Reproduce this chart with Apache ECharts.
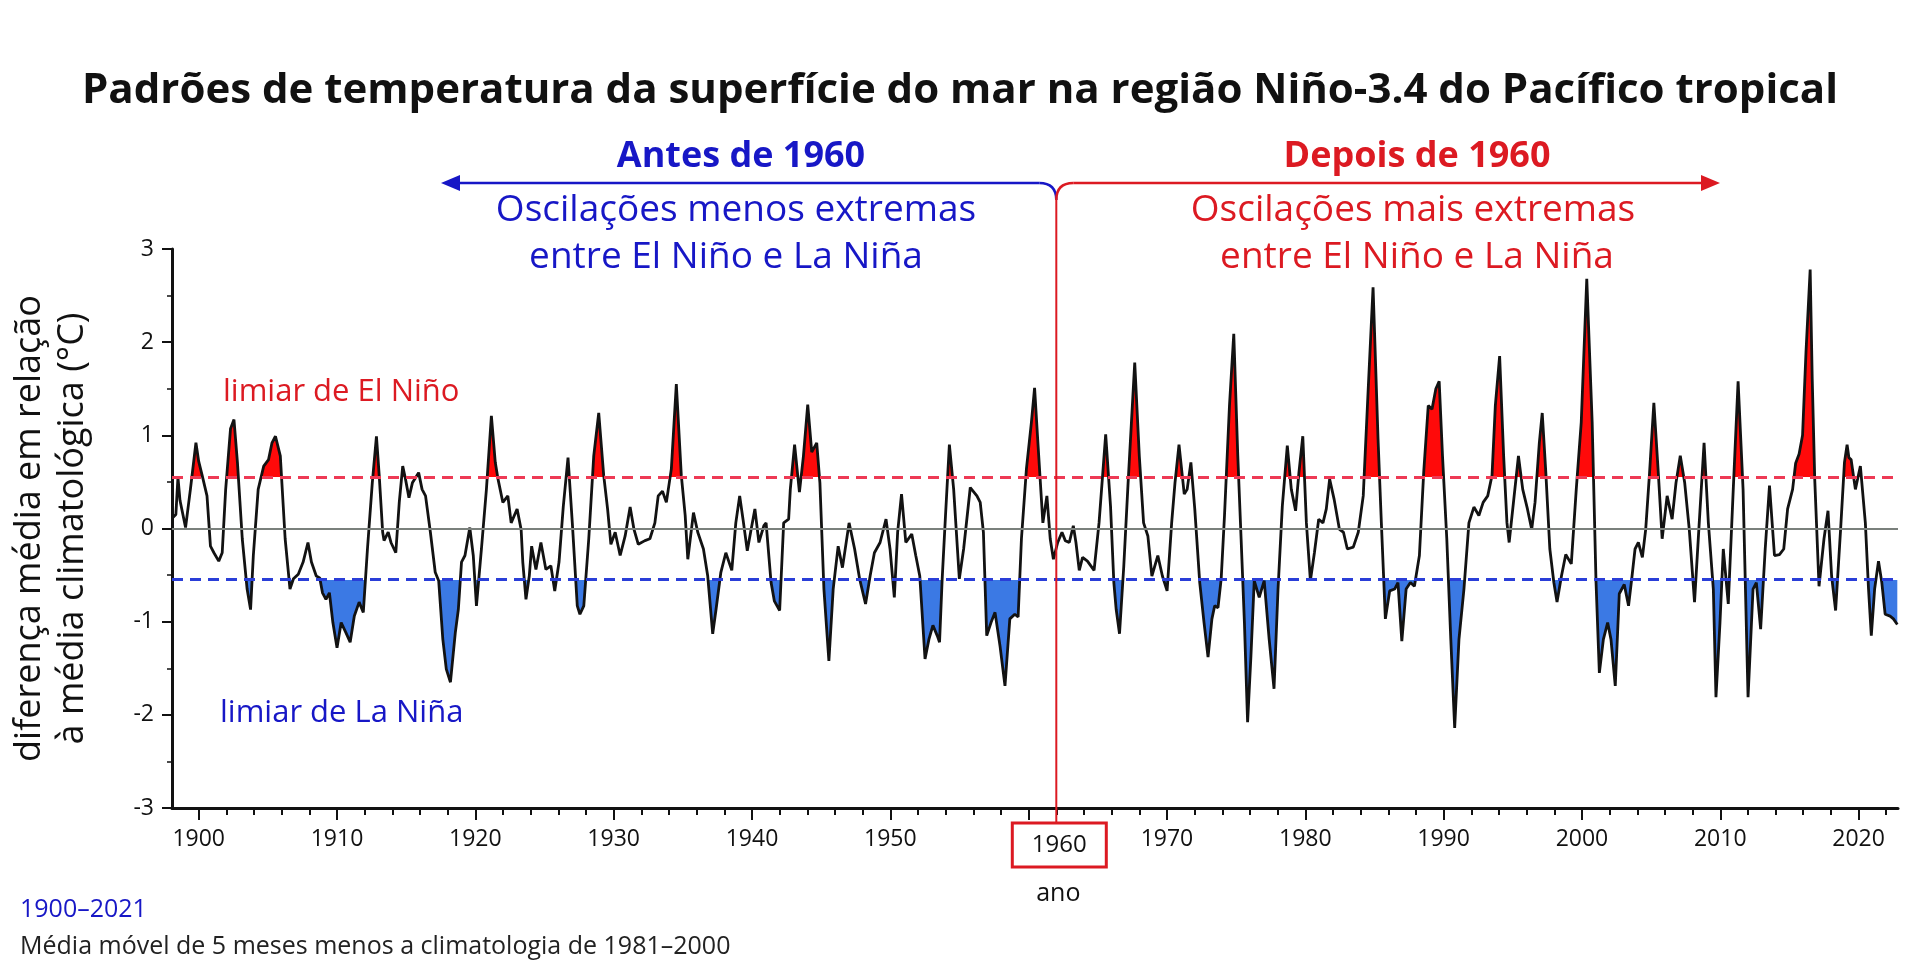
<!DOCTYPE html>
<html>
<head>
<meta charset="utf-8">
<title>Niño-3.4</title>
<script src="https://cdn.jsdelivr.net/npm/echarts@6/dist/echarts.min.js"></script>
<style>
  html, body { margin: 0; padding: 0; background: #fff; }
  #chart { width: 1920px; height: 978px; }
</style>
</head>
<body>
<div id="chart"></div>
<script>
// 5-month running mean of Niño-3.4 SST anomaly (°C)
var block1898 = [
  [1898.15,0.12],[1898.35,0.15],[1898.5,0.55],[1898.65,0.30],[1899.05,0.01],[1899.4,0.42],[1899.8,0.92],
  [1900.0,0.72],[1900.25,0.57],[1900.6,0.35],[1900.85,-0.19],[1901.1,-0.26],[1901.45,-0.35],[1901.7,-0.26],
  [1901.95,0.42],[1902.3,1.07],[1902.55,1.17],[1902.8,0.71],[1903.15,-0.11],[1903.5,-0.65],[1903.75,-0.87],
  [1903.95,-0.29],[1904.3,0.42],[1904.7,0.67],[1905.05,0.74],[1905.3,0.92],[1905.55,0.99],[1905.9,0.78],
  [1906.25,-0.11],[1906.6,-0.65],[1906.85,-0.54],[1907.2,-0.49],[1907.55,-0.36],[1907.9,-0.15],[1908.15,-0.36],
  [1908.5,-0.51],[1908.75,-0.53],[1908.95,-0.69],[1909.2,-0.76],[1909.45,-0.69],[1909.7,-1.01],[1910.0,-1.28],
  [1910.3,-1.01],[1910.65,-1.12],[1910.95,-1.22],[1911.25,-0.94],[1911.6,-0.79],[1911.9,-0.90],[1912.2,-0.22],
  [1912.55,0.49],[1912.85,0.99],[1913.05,0.57],[1913.3,-0.04],[1913.4,-0.13],[1913.7,-0.04],[1913.9,-0.15],
  [1914.25,-0.26],[1914.5,0.28],[1914.75,0.67],[1914.95,0.53],[1915.2,0.33],[1915.45,0.49],[1915.7,0.55],
  [1915.9,0.60],[1916.15,0.42],[1916.4,0.35],[1916.75,-0.04],[1917.1,-0.47],[1917.35,-0.56],[1917.65,-1.19],
  [1917.9,-1.51],[1918.2,-1.65],[1918.55,-1.12]
];
var block1919 = [
  [1918.77,-0.87],[1919.0,-0.36],[1919.25,-0.29],[1919.6,0.01],[1919.85,-0.29],[1920.08,-0.83],[1920.44,-0.22],
  [1920.8,0.42],[1921.16,1.21],[1921.44,0.71],[1921.64,0.53],[1921.99,0.28],[1922.35,0.35],[1922.59,0.06],
  [1923.02,0.21],[1923.31,-0.01],[1923.43,-0.36],[1923.66,-0.76],[1923.9,-0.51],[1924.07,-0.19],[1924.38,-0.44],
  [1924.74,-0.15],[1925.1,-0.44],[1925.46,-0.40],[1925.74,-0.67],[1926.05,-0.36],[1926.36,0.24],[1926.7,0.76],
  [1927.01,0.06],[1927.37,-0.83],[1927.56,-0.92],[1927.84,-0.83],[1928.2,-0.11],[1928.56,0.78],[1928.92,1.24],
  [1929.28,0.57],[1929.56,0.21],[1929.8,-0.17],[1930.11,-0.04],[1930.47,-0.29],[1930.83,-0.08],[1931.19,0.23],
  [1931.47,-0.01],[1931.78,-0.17],[1932.26,-0.13],[1932.62,-0.11],[1932.98,0.06],[1933.22,0.35],[1933.53,0.40],
  [1933.81,0.28],[1934.17,0.64],[1934.53,1.55],[1934.89,0.57],[1935.17,0.14],[1935.36,-0.33],[1935.77,0.17],
  [1936.08,-0.04],[1936.49,-0.22],[1936.8,-0.51],[1937.16,-1.13],[1937.4,-0.87],[1937.75,-0.47],[1938.11,-0.26],
  [1938.54,-0.45],[1938.83,0.06],[1939.11,0.35],[1939.35,0.10],[1939.66,-0.24],[1939.9,-0.04],[1940.21,0.21],
  [1940.5,-0.15],[1940.86,0.03]
];
var block1941 = [
  [1941.02,0.06],[1941.38,-0.58],[1941.62,-0.78],[1942.0,-0.88],[1942.29,0.06],[1942.65,0.10],[1942.77,0.42],
  [1943.08,0.90],[1943.43,0.39],[1943.72,0.78],[1944.03,1.33],[1944.32,0.82],[1944.68,0.92],[1944.91,0.49],
  [1945.2,-0.65],[1945.56,-1.42],[1945.87,-0.65],[1946.23,-0.19],[1946.54,-0.42],[1947.02,0.06],[1947.42,-0.22],
  [1947.78,-0.54],[1948.21,-0.81],[1948.54,-0.51],[1948.85,-0.26],[1949.26,-0.15],[1949.69,0.10],[1949.98,-0.22],
  [1950.29,-0.74],[1950.53,-0.04],[1950.81,0.37],[1951.12,-0.15],[1951.55,-0.06],[1951.84,-0.29],[1952.13,-0.51],
  [1952.51,-1.40],[1952.79,-1.19],[1953.08,-1.04],[1953.39,-1.15],[1953.56,-1.22],[1953.75,-0.54],[1953.99,0.14],
  [1954.27,0.90],[1954.58,0.42],[1954.99,-0.54],[1955.3,-0.22],[1955.78,0.44],[1956.26,0.35],[1956.5,0.28],
  [1956.73,-0.04],[1956.97,-1.15],[1957.28,-1.01],[1957.57,-0.90],[1957.93,-1.26],[1958.29,-1.69],[1958.64,-0.97],
  [1959.0,-0.92],[1959.24,-0.95],[1959.48,-0.11],[1959.84,0.64],[1960.2,1.14],[1960.43,1.51],[1960.67,0.92]
];
var block1961 = [
  [1961.03,0.06],[1961.32,0.35],[1961.56,-0.11],[1961.79,-0.33],[1962.1,-0.15],[1962.41,-0.04],[1962.65,-0.13],
  [1962.94,-0.15],[1963.23,0.03],[1963.42,-0.15],[1963.66,-0.45],[1963.9,-0.31],[1964.25,-0.35],[1964.73,-0.45],
  [1965.09,0.06],[1965.57,1.01],[1965.92,0.24],[1966.16,-0.58],[1966.33,-0.87],[1966.57,-1.13],[1966.88,-0.40],
  [1967.19,0.49],[1967.67,1.78],[1968.0,0.78],[1968.31,0.06],[1968.62,-0.08],[1968.91,-0.51],[1969.34,-0.29],
  [1969.67,-0.51],[1970.01,-0.67],[1970.34,0.06],[1970.58,0.49],[1970.87,0.90],[1971.25,0.37],[1971.46,0.42],
  [1971.73,0.71],[1972.01,0.21],[1972.37,-0.58],[1972.68,-1.01],[1972.97,-1.38],[1973.25,-0.97],[1973.45,-0.83],
  [1973.69,-0.85],[1973.92,-0.54],[1974.16,0.14],[1974.52,1.32],[1974.83,2.09],[1975.12,0.78],[1975.36,-0.11],
  [1975.6,-1.01],[1975.83,-2.08],[1976.07,-1.37],[1976.31,-0.56],[1976.67,-0.74],[1977.03,-0.56],[1977.39,-1.19],
  [1977.74,-1.72],[1978.03,-0.65],[1978.34,0.24],[1978.7,0.89],[1978.99,0.42],[1979.3,0.19],[1979.54,0.60],
  [1979.82,0.99],[1980.08,0.06],[1980.37,-0.56],[1980.66,-0.26],[1980.97,0.10],[1981.28,0.06],[1981.52,0.21],
  [1981.76,0.53],[1982.09,0.31],[1982.47,-0.01],[1982.76,-0.04],[1983.04,-0.22]
];
var block1983 = [
  [1983.47,-0.20],[1983.83,-0.04],[1984.19,0.35],[1984.55,1.50],[1984.9,2.59],[1985.26,0.96],[1985.5,0.06],
  [1985.79,-0.97],[1986.1,-0.67],[1986.46,-0.65],[1986.7,-0.58],[1986.98,-1.21],[1987.29,-0.65],[1987.6,-0.58],
  [1987.89,-0.62],[1988.25,-0.29],[1988.56,0.60],[1988.89,1.32],[1989.16,1.28],[1989.44,1.50],[1989.68,1.58],
  [1989.92,0.78],[1990.23,-0.11],[1990.52,-1.19],[1990.8,-2.14],[1991.11,-1.19],[1991.47,-0.65],[1991.83,0.06],
  [1992.19,0.23],[1992.55,0.14],[1992.86,0.28],[1993.19,0.35],[1993.5,0.57],[1993.74,1.32],[1994.05,1.85],
  [1994.34,0.78],[1994.58,0.06],[1994.74,-0.15],[1995.05,0.28],[1995.41,0.78],[1995.72,0.42],[1996.06,0.21],
  [1996.37,-0.01],[1996.61,0.28],[1996.92,0.92],[1997.13,1.24],[1997.39,0.60],[1997.68,-0.22],[1997.97,-0.58],
  [1998.2,-0.79],[1998.52,-0.51],[1998.83,-0.28],[1999.23,-0.38],[1999.59,0.42],[1999.95,1.14],[2000.35,2.68],
  [2000.74,1.14],[2001.02,-0.58],[2001.26,-1.55],[2001.55,-1.19],[2001.86,-1.01],[2002.1,-1.19],[2002.41,-1.69]
];
var block2002 = [
  [2002.7,-0.70],[2003.06,-0.60],[2003.37,-0.83],[2003.6,-0.54],[2003.84,-0.22],[2004.08,-0.15],[2004.37,-0.31],
  [2004.61,-0.01],[2004.89,0.60],[2005.2,1.35],[2005.52,0.60],[2005.8,-0.11],[2006.16,0.35],[2006.52,0.10],
  [2006.8,0.49],[2007.11,0.78],[2007.43,0.49],[2007.76,-0.01],[2008.14,-0.79],[2008.48,0.06],[2008.83,0.92],
  [2009.14,0.06],[2009.5,-0.65],[2009.69,-1.81],[2009.98,-1.01],[2010.22,-0.22],[2010.58,-0.81],[2010.94,0.42],
  [2011.29,1.58],[2011.65,0.42],[2012.01,-1.81],[2012.37,-0.65],[2012.61,-0.58],[2012.92,-1.08],[2013.25,-0.22],
  [2013.56,0.46],[2013.92,-0.29],[2014.28,-0.28],[2014.59,-0.22],[2014.87,0.21],[2015.23,0.42],[2015.45,0.70],
  [2015.7,0.80],[2015.95,1.00],[2016.2,1.90],[2016.5,2.78],[2016.65,1.60],[2016.83,0.53],[2017.14,-0.62],
  [2017.5,-0.11],[2017.79,0.19],[2018.05,-0.51],[2018.34,-0.88],[2018.7,-0.01],[2018.98,0.71],[2019.17,0.90],
  [2019.3,0.76],[2019.46,0.74],[2019.77,0.42],[2020.13,0.67],[2020.49,0.06],[2020.72,-0.65],[2020.92,-1.15],
  [2021.16,-0.65],[2021.44,-0.35],[2021.68,-0.58],[2021.92,-0.92],[2022.28,-0.94],[2022.52,-0.97],[2022.8,-1.03]
];

var elNinoLimit = 0.55;
var laNinaLimit = -0.55;
var yearLabels = [1900, 1910, 1920, 1930, 1940, 1950, 1960, 1970, 1980, 1990, 2000, 2010, 2020];
var splitYear = 1962.0;   // where the red "1960" divider is drawn

var sst = [].concat(block1898, block1919, block1941, block1961, block1983, block2002);

// small ticks every two years between the decades
var minorYears = [];
for (var y = 1902; y <= 2022; y += 2) {
  if (y % 10 !== 0) minorYears.push(y);
}

var FONT = '"Open Sans", Lato, sans-serif';
var RED = '#dc1a22';
var BLUE = '#1717c6';
var xMin = 1898.07, xMax = 2022.85;

var chart = echarts.init(document.getElementById('chart'));

var option = {
  backgroundColor: '#ffffff',
  animation: false,
  textStyle: { fontFamily: FONT },
  title: {
    text: 'Padrões de temperatura da superfície do mar na região Niño-3.4 do Pacífico tropical',
    left: 'center',
    top: 65,
    textStyle: { fontFamily: FONT, fontSize: 42, fontWeight: 'bold', color: '#111' }
  },
  grid: { left: 156, right: 22, top: 249, bottom: 170 },
  xAxis: [
    {
      type: 'value', min: xMin, max: xMax, position: 'bottom',
      axisLine: { onZero: false, lineStyle: { color: '#111', width: 3 } },
      axisTick: { customValues: yearLabels, length: 12, lineStyle: { color: '#111', width: 2 } },
      axisLabel: {
        customValues: yearLabels, fontSize: 23, color: '#111', margin: 20,
        formatter: function (v) { return v === 1960 ? '' : String(v); }
      },
      splitLine: { show: false }
    },
    {
      type: 'value', min: xMin, max: xMax, position: 'bottom',
      axisLine: { show: false, onZero: false },
      axisTick: { customValues: minorYears, length: 7, lineStyle: { color: '#111', width: 2 } },
      axisLabel: { show: false },
      splitLine: { show: false }
    }
  ],
  yAxis: {
    type: 'value', min: -3, max: 3, interval: 1,
    name: 'diferença média em relação\nà média climatológica (°C)',
    nameLocation: 'middle', nameRotate: 90, nameGap: 78,
    nameTextStyle: { fontFamily: FONT, fontSize: 36, lineHeight: 43, color: '#111' },
    axisLine: { show: true, lineStyle: { color: '#111', width: 3 } },
    axisTick: { show: true, length: 10, lineStyle: { color: '#111', width: 2 } },
    minorTick: { show: true, splitNumber: 2, length: 5, lineStyle: { color: '#111', width: 1.5 } },
    axisLabel: { fontSize: 23, color: '#111', margin: 18 },
    splitLine: { show: false }
  },
  visualMap: {
    type: 'piecewise', show: false, seriesIndex: 1, dimension: 1,
    pieces: [
      { gt: elNinoLimit, color: '#ff0a0a' },
      { gte: laNinaLimit, lte: elNinoLimit, color: 'rgba(255,255,255,0)' },
      { lt: laNinaLimit, color: '#3b79e4' }
    ]
  },
  series: [
    {
      name: 'anomalia', type: 'line', data: sst, xAxisIndex: 0,
      symbol: 'none', silent: true, z: 4,
      lineStyle: { color: '#121212', width: 2.8 }
    },
    {
      name: 'limiares', type: 'line', data: sst, xAxisIndex: 0,
      symbol: 'none', silent: true, z: 2,
      lineStyle: { width: 0 },
      areaStyle: { opacity: 1 },
      markLine: {
        silent: true, symbol: ['none', 'none'], label: { show: false },
        data: [
          { yAxis: 0, lineStyle: { color: '#7a807c', type: 'solid', width: 2 } },
          { yAxis: elNinoLimit, lineStyle: { color: '#ee3a55', type: [11, 7], width: 3 } },
          { yAxis: laNinaLimit, lineStyle: { color: '#2a3ed8', type: [11, 7], width: 3 } }
        ]
      }
    }
  ]
};

chart.setOption(option);

// annotations, placed from the axis scale where they belong to it
var sx = chart.convertToPixel({ xAxisIndex: 0 }, splitYear);
var topY = 183, joinY = 200, boxTop = 823;

function label(text, x, y, color, size, weight, align) {
  return {
    type: 'text', x: x, y: y, silent: true,
    style: {
      text: text, fill: color, fontSize: size, fontWeight: weight || 'normal',
      fontFamily: FONT, align: align || 'center', verticalAlign: 'middle'
    }
  };
}

chart.setOption({
  graphic: [
    label('Antes de 1960', 741, 157, BLUE, 36, 'bold'),
    label('Depois de 1960', 1417, 157, RED, 36, 'bold'),
    label('Oscilações menos extremas', 736, 210, BLUE, 37),
    label('entre El Niño e La Niña', 726, 257, BLUE, 37),
    label('Oscilações mais extremas', 1413, 210, RED, 37),
    label('entre El Niño e La Niña', 1417, 257, RED, 37),
    label('limiar de El Niño', 223, 392, RED, 31, 'normal', 'left'),
    label('limiar de La Niña', 220, 713, BLUE, 31, 'normal', 'left'),
    label('1900–2021', 20, 910, BLUE, 25, 'normal', 'left'),
    label('Média móvel de 5 meses menos a climatologia de 1981–2000', 20, 947, '#222', 25, 'normal', 'left'),
    label('1960', sx + 3, boxTop + 22, '#111', 24),
    label('ano', sx + 2, 894, '#111', 25),
    // blue arrow to the left
    { type: 'bezierCurve', silent: true,
      shape: { x1: sx, y1: joinY, cpx1: sx, cpy1: topY, x2: sx - 17, y2: topY },
      style: { stroke: BLUE, lineWidth: 2.5, fill: null } },
    { type: 'line', silent: true,
      shape: { x1: sx - 17, y1: topY, x2: 455, y2: topY },
      style: { stroke: BLUE, lineWidth: 2.5 } },
    { type: 'polygon', silent: true,
      shape: { points: [[441, topY], [460, topY - 8], [460, topY + 8]] },
      style: { fill: BLUE } },
    // red arrow to the right
    { type: 'bezierCurve', silent: true,
      shape: { x1: sx, y1: joinY, cpx1: sx, cpy1: topY, x2: sx + 17, y2: topY },
      style: { stroke: RED, lineWidth: 2.5, fill: null } },
    { type: 'line', silent: true,
      shape: { x1: sx + 17, y1: topY, x2: 1706, y2: topY },
      style: { stroke: RED, lineWidth: 2.5 } },
    { type: 'polygon', silent: true,
      shape: { points: [[1720, topY], [1701, topY - 8], [1701, topY + 8]] },
      style: { fill: RED } },
    // red divider and the boxed 1960
    { type: 'line', silent: true, z: 10,
      shape: { x1: sx, y1: joinY, x2: sx, y2: boxTop },
      style: { stroke: RED, lineWidth: 2 } },
    { type: 'rect', silent: true,
      shape: { x: sx - 44, y: boxTop, width: 94, height: 44 },
      style: { stroke: RED, lineWidth: 3, fill: null } }
  ]
});

window.onresize = function () {
  chart.resize();
};
</script>
</body>
</html>
